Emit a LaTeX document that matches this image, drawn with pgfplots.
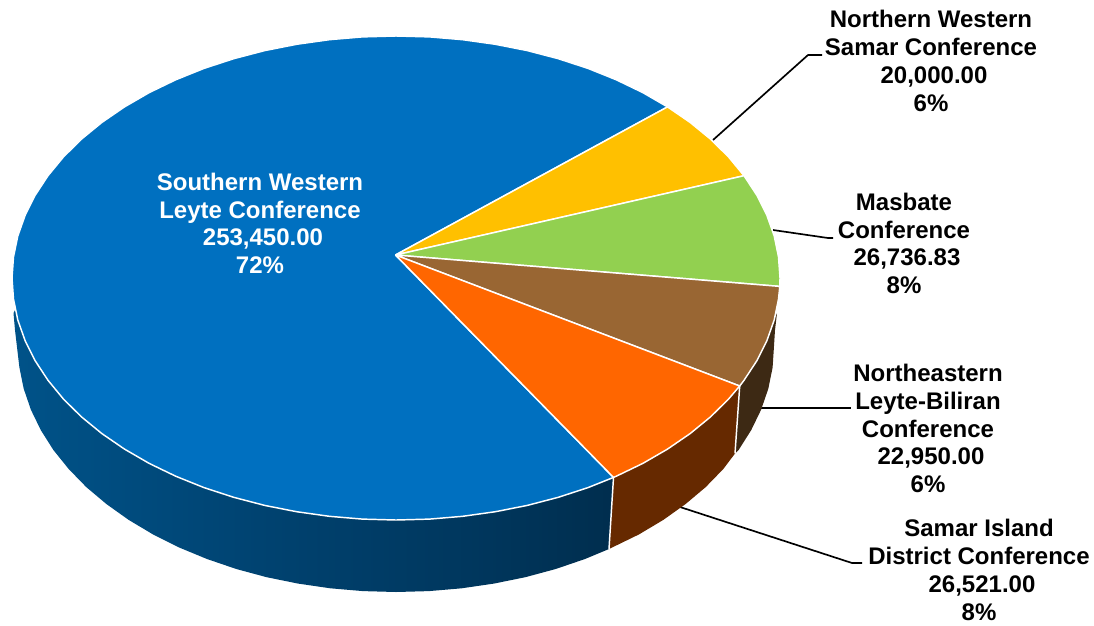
\documentclass[border=0pt]{standalone}
\usepackage{pgfplots}
\pgfplotsset{compat=1.18}
\usepackage{fontspec}
\setmainfont{Liberation Sans}
\definecolor{sliceblue}{HTML}{0070C0}
\definecolor{sliceyellow}{HTML}{FFC000}
\definecolor{slicegreen}{HTML}{92D050}
\definecolor{slicebrown}{HTML}{996633}
\definecolor{sliceorange}{HTML}{FF6600}
\definecolor{sideorange}{HTML}{662900}
\definecolor{sidebrown}{HTML}{3D2914}
\definecolor{sb0}{HTML}{00629F}
\definecolor{sb1}{HTML}{005A94}
\definecolor{sb2}{HTML}{004E82}
\definecolor{sb3}{HTML}{00416E}
\definecolor{sb4}{HTML}{00365C}
\definecolor{sb5}{HTML}{002D4D}
\pgfdeclarehorizontalshading{sideblue}{100bp}{color(0bp)=(sb0); color(14.5bp)=(sb1); color(31bp)=(sb2); color(48bp)=(sb3); color(64.5bp)=(sb4); color(76bp)=(sb5); color(100bp)=(sb5)}
\newcommand{\lbl}[3]{\node[align=center,inner sep=0pt,font=\fontsize{18}{20.8}\selectfont\bfseries,text=#1] at #2 {#3};}
\begin{document}
\begin{tikzpicture}
\path[use as bounding box] (0,0) rectangle (820.5pt,468.75pt);
\begin{axis}[
    at={(0,0)}, anchor=south west,
    scale only axis, width=820.5pt, height=468.75pt,
    xmin=0, xmax=1094, ymin=0, ymax=625,
    y dir=reverse,
    hide axis, clip=false,
    every axis plot/.append style={no marks, line join=round},
]
% leader lines
\addplot[black, line width=1.25pt] coordinates {(713,140) (808,55) (822,55)};
\addplot[black, line width=1.25pt] coordinates {(773,230) (828,238) (833,238)};
\addplot[black, line width=1.25pt] coordinates {(760,408) (851,408)};
\addplot[black, line width=1.25pt] coordinates {(680,507) (852,563) (862,563)};

% side walls
\addplot[shade, shading=sideblue, draw=none] coordinates {
    (613.5,477.4) (396,300) (20,300) (13.5,313) (15,330) (19.4,367.5) (23.7,388.7) (30.9,409.7) (40.8,430.1)
    (53.4,450.0) (68.7,469.0) (86.3,487.1) (106.5,504.1) (128.7,519.9) (153.0,534.4) (179.2,547.5)
    (207.0,559.0) (236.3,569.0) (266.7,577.2) (298.2,583.6) (330.4,588.3) (363,591.1) (396,592)
    (429.0,591.1) (461.6,588.3) (493.8,583.6) (525.3,577.2) (555.7,569.0) (585.0,559.0) (609,549)
    (613.5,477.4)};
\addplot[fill=sideorange, draw=none] coordinates {
    (739.7,386.0) (728.6,399.0) (710.6,416.8) (690.1,433.6) (667.5,449.1) (642.8,463.4) (616.3,476.2)
    (613.5,477.4) (609,549) (639.0,534.4) (663.3,519.9) (685.5,504.1) (705.7,487.1) (723.3,469.0)
    (735,453.5) (739.7,386.0)};
\addplot[fill=sidebrown, draw=none] coordinates {
    (739.7,386.0) (744.0,380.3) (756.8,360.8) (766.9,340.6) (774.2,320.0) (777,313) (775,330) (774,346)
    (772.6,367.5) (768.3,388.7) (761.1,409.7) (751.2,430.1) (738.6,450.0) (735,453.5) (739.7,386.0)};
\addplot[white, line width=1.1pt] coordinates {(613.5,477.4) (609,549)};
\addplot[white, line width=1.1pt] coordinates {(739.7,386.0) (735,453.5)};

% top face
\addplot[fill=sliceblue, draw=white, line width=1.1pt] coordinates {
    (395.5,255) (613.5,477.4) (588.0,487.6) (558.3,497.3) (527.3,505.4) (495.4,511.7) (462.7,516.3)
    (429.5,519.1) (396.0,520.0) (362.5,519.1) (329.3,516.3) (296.6,511.7) (264.7,505.4) (233.7,497.3)
    (204.0,487.6) (175.7,476.2) (149.2,463.4) (124.5,449.1) (101.9,433.6) (81.4,416.8) (63.4,399.0)
    (48.0,380.3) (35.2,360.8) (25.1,340.6) (17.8,320.0) (13.5,299.1) (12.0,278.0) (13.5,256.9)
    (17.8,236.0) (25.1,215.4) (35.2,195.2) (48.0,175.7) (63.4,157.0) (81.4,139.2) (101.9,122.4)
    (124.5,106.9) (149.2,92.6) (175.7,79.8) (204.0,68.4) (233.7,58.7) (264.7,50.6) (296.6,44.3)
    (329.3,39.7) (362.5,36.9) (396.0,36.0) (429.5,36.9) (462.7,39.7) (495.4,44.3) (527.3,50.6)
    (558.3,58.7) (588.0,68.4) (616.3,79.8) (642.8,92.6) (667.5,106.9) (395.5,255)};
\addplot[fill=sliceyellow, draw=white, line width=1.1pt] coordinates {
    (395.5,255) (667.5,106.9) (690.1,122.4) (710.6,139.2) (728.6,157.0) (744.0,175.7) (395.5,255)};
\addplot[fill=slicegreen, draw=white, line width=1.1pt] coordinates {
    (395.5,255) (744.0,175.7) (756.8,195.2) (766.9,215.4) (774.2,236.0) (778.5,256.9) (780.0,278.0)
    (779.8,286.4) (395.5,255)};
\addplot[fill=slicebrown, draw=white, line width=1.1pt] coordinates {
    (395.5,255) (779.8,286.4) (778.5,299.1) (774.2,320.0) (766.9,340.6) (756.8,360.8) (744.0,380.3)
    (739.7,386.0) (395.5,255)};
\addplot[fill=sliceorange, draw=white, line width=1.1pt] coordinates {
    (395.5,255) (739.7,386.0) (728.6,399.0) (710.6,416.8) (690.1,433.6) (667.5,449.1) (642.8,463.4)
    (616.3,476.2) (613.5,477.4) (395.5,255)};

% labels
\lbl{white}{(axis cs:260,223.5)}{Southern Western\\Leyte Conference\\\hspace*{4.5pt}253,450.00\\72\%}
\lbl{black}{(axis cs:931,61)}{Northern Western\\Samar Conference\\\hspace*{4.5pt}20,000.00\\6\%}
\lbl{black}{(axis cs:904,243.5)}{Masbate\\Conference\\\hspace*{4.5pt}26,736.83\\8\%}
\lbl{black}{(axis cs:928,428.5)}{Northeastern\\Leyte-Biliran\\Conference\\\hspace*{4.5pt}22,950.00\\6\%}
\lbl{black}{(axis cs:979,570)}{Samar Island\\District Conference\\\hspace*{4.5pt}26,521.00\\8\%}
\end{axis}
\end{tikzpicture}
\end{document}
